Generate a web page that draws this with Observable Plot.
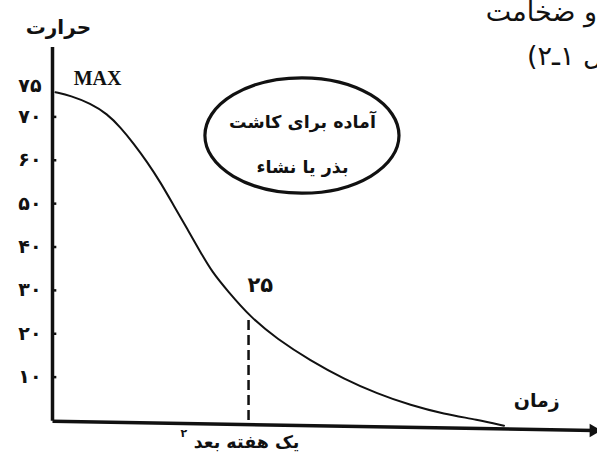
<!DOCTYPE html>
<html>
<head>
<meta charset="utf-8">
<script src="https://cdn.jsdelivr.net/npm/d3@7"></script>
<script src="https://cdn.jsdelivr.net/npm/@observablehq/plot@0.6"></script>
<style>
  html, body { margin: 0; padding: 0; background: #fff; }
  #chart svg { display: block; }
</style>
</head>
<body>
<div id="chart"></div>
<script>
// ---- data (time in weeks, temperature) ----
const weeks = [0.015, 0.092, 0.194, 0.279, 0.347, 0.415, 0.483, 0.551, 0.619, 0.687, 0.755, 0.815, 0.891, 1.010, 1.146, 1.316, 1.486, 1.656, 1.827, 1.996, 2.167, 2.303];
const temps = [75.7, 74.9, 73.1, 70.7, 67.6, 63.8, 59.6, 54.9, 49.5, 44.2, 38.8, 34.2, 30.0, 23.8, 18.8, 13.8, 9.6, 6.2, 3.5, 1.5, 0.2, -1.2];

const yTicks = [10, 20, 30, 40, 50, 60, 70];
const yTickLabels = ["۱۰", "۲۰", "۳۰", "۴۰", "۵۰", "۶۰", "۷۰"];
const maxValue = 75;
const maxLabel = "۷۵";

const weekMark = 1.0;        // "one week later"
const weekValue = 23.8;      // value reached after one week
const weekValueLabel = "۲۵";

const xAxisStart = {t: 0, v: -0.2};
const xAxisEnd = {t: 2.78, v: -2.3};
const yAxisTop = 86;

const calloutLines = ["آماده برای کاشت", "بذر یا نشاء"];
const calloutBox = {t1: 0.78, t2: 1.77, v1: 52.3, v2: 78.9};

const yTitle = "حرارت";
const xTitle = "زمان";
const weekLabel = "یک هفته بعد";
const footnoteMark = "۲";
const pageLines = ["میزان و ضخامت", "(شکل ۱ـ۲)."];
const pageLineLeft = [2.21, 2.42];   // left end of each page line (weeks scale)
const pageLineV = [94.1, 83.9];

// ---- build ----
const curve = weeks.map((t, i) => ({t, v: temps[i]}));
const ticks = yTicks.map((v, i) => ({v, label: yTickLabels[i]}));
const page = pageLines.map((s, i) => ({s, t: pageLineLeft[i], v: pageLineV[i]}));

const fa = "DejaVu Sans";

const ellipseMark = (index, scales) => {
  const x1 = scales.x(calloutBox.t1), x2 = scales.x(calloutBox.t2);
  const y1 = scales.y(calloutBox.v1), y2 = scales.y(calloutBox.v2);
  return d3.create("svg:ellipse")
    .attr("cx", (x1 + x2) / 2).attr("cy", (y1 + y2) / 2)
    .attr("rx", Math.abs(x2 - x1) / 2).attr("ry", Math.abs(y2 - y1) / 2)
    .attr("fill", "none").attr("stroke", "#111").attr("stroke-width", 3.2)
    .node();
};

const chart = Plot.plot({
  width: 597,
  height: 459,
  marginLeft: 52,
  marginRight: 0,
  marginTop: 47,
  marginBottom: 39,
  x: {domain: [0, 2.78], axis: null},
  y: {domain: [0, yAxisTop], axis: null},
  style: {background: "#fff", color: "#111"},
  marks: [
    // y axis line
    Plot.ruleX([0], {y1: xAxisStart.v, y2: yAxisTop, stroke: "#111", strokeWidth: 3.5}),
    // y ticks (small marks to the right of the axis)
    Plot.ruleY(ticks, {y: "v", x1: 0, x2: 0.022, stroke: "#111", strokeWidth: 2.5}),
    // y tick labels
    Plot.text(ticks, {x: 0, y: "v", text: "label", dx: -11, textAnchor: "end", fontFamily: fa, fontWeight: "bold", fontSize: 19, fill: "#111"}),
    Plot.text([maxValue], {x: 0, y: d => d, text: () => maxLabel, dx: -11, dy: -9, textAnchor: "end", fontFamily: fa, fontWeight: "bold", fontSize: 19, fill: "#111"}),
    // x axis with arrow head
    Plot.link([{a: xAxisStart, b: xAxisEnd}], {x1: d => d.a.t, y1: d => d.a.v, x2: d => d.b.t - 0.02, y2: d => d.b.v, stroke: "#111", strokeWidth: 3.5}),
    Plot.dot([xAxisEnd], {x: "t", y: "v", dx: -4, symbol: "triangle", rotate: 90, r: 5, fill: "#111", stroke: "none"}),
    // dashed week line
    Plot.ruleX([weekMark], {y1: 0, y2: weekValue, stroke: "#111", strokeWidth: 2.5, strokeDasharray: "10,5"}),
    // curve
    Plot.line(curve, {x: "t", y: "v", curve: "basis", stroke: "#111", strokeWidth: 2}),
    // callout ellipse + text
    ellipseMark,
    Plot.text([calloutLines.join("\n")], {x: (calloutBox.t1 + calloutBox.t2) / 2, y: (calloutBox.v1 + calloutBox.v2) / 2, text: d => d, lineHeight: 2.6, fontFamily: fa, fontWeight: "bold", fontSize: 17.5, fill: "#111"}),
    // labels
    Plot.text([yTitle], {x: 0.03, y: 90.6, text: d => d, fontFamily: fa, fontWeight: "bold", fontSize: 20, fill: "#111"}),
    Plot.text(["MAX"], {x: 0.23, y: 78.8, text: d => d, fontFamily: "Liberation Serif", fontWeight: "bold", fontSize: 20, fill: "#111"}),
    Plot.text([weekValueLabel], {x: weekMark + 0.06, y: 31.1, text: d => d, fontFamily: fa, fontWeight: "bold", fontSize: 21, fill: "#111"}),
    Plot.text([xTitle], {x: 2.47, y: 4.6, text: d => d, fontFamily: fa, fontWeight: "bold", fontSize: 19, fill: "#111"}),
    Plot.text([weekLabel], {x: weekMark - 0.01, y: -5.1, text: d => d, fontFamily: fa, fontWeight: "bold", fontSize: 17.5, fill: "#111"}),
    Plot.text([footnoteMark], {x: 0.67, y: -2.9, text: d => d, fontFamily: fa, fontWeight: "bold", fontSize: 11, fill: "#111"}),
    // page text cut at right edge (right-to-left paragraphs)
    Plot.text(page, {x: "t", y: "v", text: "s", textAnchor: "start", fontFamily: fa, fontSize: 27, fill: "#111", ariaLabel: "page-rtl"})
  ]
});

document.getElementById("chart").appendChild(chart);

// right-to-left paragraph direction; then align each line's left end to its anchor
const xs = chart.scale("x");
d3.select(chart).selectAll("g[aria-label='page-rtl'] text")
  .style("direction", "rtl")
  .attr("direction", "rtl")
  .each(function(d, i) {
    const bb = this.getBBox();
    const left = xs.apply(page[i].t);
    const shift = left - bb.x;
    const cur = this.getAttribute("transform") || "";
    this.setAttribute("transform", `translate(${shift},0) ${cur}`);
  });
</script>
</body>
</html>
